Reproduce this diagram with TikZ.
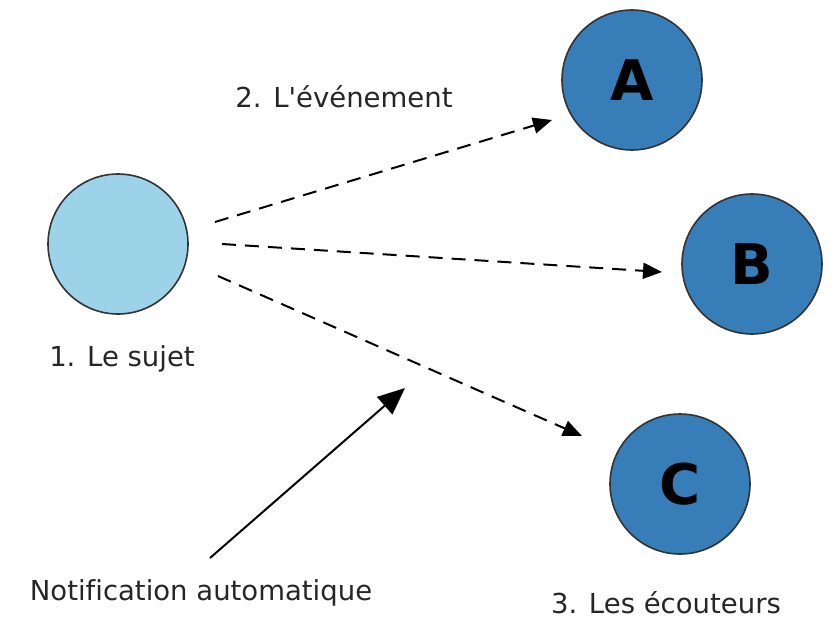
\documentclass[tikz,border=0pt]{standalone}
\usepackage{fontspec}
\newfontfamily\labelfont{DejaVu Sans}[Ligatures=NoCommon]
\usepackage{tikz}
\usetikzlibrary{arrows.meta, positioning, backgrounds}
\definecolor{sujetblue}{HTML}{9DD3E8}
\definecolor{ecoutblue}{HTML}{377EB8}

\begin{document}
\begin{tikzpicture}[x=1pt,y=-1pt,line width=2pt]
    \tikzstyle{every node}=[font=\labelfont\fontsize{27.5}{30}\selectfont,text=black!85,inner sep=1pt]
    \tikzset{
      sujet/.style={circle,draw=black!80,line width=1.6pt,fill=sujetblue,minimum size=140pt,inner sep=0pt},
      ecouteur/.style={circle,draw=black!80,line width=1.6pt,fill=ecoutblue,minimum size=140pt,inner sep=0pt,
        font=\labelfont\fontsize{56}{60}\selectfont\bfseries,text=black},
      evt/.style={dashed,dash pattern=on 14pt off 9pt,-{Triangle[length=19pt,width=16pt]}},
      notif/.style={-{Triangle[length=27pt,width=23pt]}}
    }
      \useasboundingbox (0,0) rectangle (835,619);
      \node[sujet]    (subj) at (118,244) {};
      \node[ecouteur] (ecA)  at (632,80)  {A};
      \node[ecouteur] (ecB)  at (752,264) {B};
      \node[ecouteur] (ecC)  at (680,484) {C};

      \node (lblevt)   at (344,97)  {2. L'événement};
      \node (lblsubj)  at (122,359) {1. Le sujet};
      \node (lblnotif) at (201,593) {Notification automatique};
      \node (lblecout) at (666,603) {3. Les écouteurs};

      \coordinate (outA) at (215,222);
      \coordinate (outB) at (222,244);
      \coordinate (outC) at (218,276);
      \coordinate (inA)  at (552,120);
      \coordinate (inB)  at (662,272);
      \coordinate (inC)  at (582,436);
      \coordinate (notifstart) at (210,558);
      \coordinate (notifend)   at (405,388);

      \draw[evt]   (outA) -- (inA);
      \draw[evt]   (outB) -- (inB);
      \draw[evt]   (outC) -- (inC);
      \draw[notif] (notifstart) -- (notifend);
\end{tikzpicture}
\end{document}
